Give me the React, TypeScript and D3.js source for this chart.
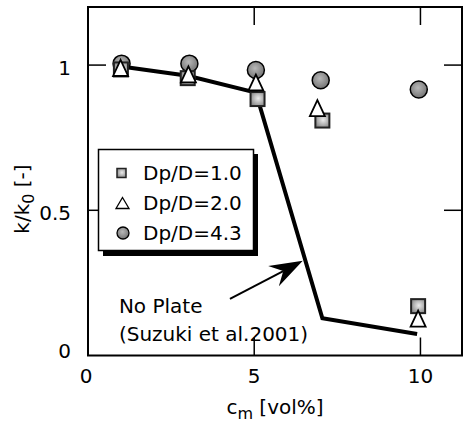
import React, { useEffect, useRef } from 'react';
import * as d3 from 'd3';

// Dp/D = 4.3 (circles)
const circX = [1.01, 3.05, 5.05, 7.0, 9.95];
const circY = [1.005, 1.005, 0.983, 0.948, 0.916];
// Dp/D = 2.0 (triangles)
const triX = [0.98, 3.02, 5.05, 6.9, 9.93];
const triY = [0.99, 0.968, 0.94, 0.852, 0.127];
// Dp/D = 1.0 (squares)
const sqX = [0.99, 3.0, 5.1, 7.05, 9.93];
const sqY = [0.985, 0.955, 0.883, 0.809, 0.17];
// No Plate (Suzuki et al.2001)
const lineX = [1, 3, 5.05, 7.05, 9.9];
const lineY = [0.995, 0.963, 0.905, 0.128, 0.074];

const xTicks = [0, 5, 10];
const yTicks = [0, 0.5, 1];
const legendLabels = ['Dp/D=1.0', 'Dp/D=2.0', 'Dp/D=4.3'];

const FONT = '"DejaVu Sans", sans-serif';

const triPath = (cx: number, cy: number, w: number, h: number) =>
  `M${cx},${cy - h / 2}L${cx + w / 2},${cy + h / 2}L${cx - w / 2},${cy + h / 2}Z`;

const App = () => {
  const svgRef = useRef<SVGSVGElement>(null);

  useEffect(() => {
    const W = 464;
    const H = 423;
    const svg = d3.select(svgRef.current);
    svg.selectAll('*').remove();
    svg.attr('width', W).attr('height', H);

    const x = d3.scaleLinear().domain([0, 11.25]).range([88, 462]);
    const y = d3.scaleLinear().domain([0, 1.2]).range([355.5, 7]);

    const defs = svg.append('defs');
    const gSq = defs.append('radialGradient').attr('id', 'gsq').attr('cx', '55%').attr('cy', '45%').attr('r', '60%');
    gSq.append('stop').attr('offset', '0%').attr('stop-color', '#ececec');
    gSq.append('stop').attr('offset', '100%').attr('stop-color', '#8a8a8a');
    const gCi = defs.append('radialGradient').attr('id', 'gci').attr('cx', '45%').attr('cy', '40%').attr('r', '60%');
    gCi.append('stop').attr('offset', '0%').attr('stop-color', '#b8b8b8');
    gCi.append('stop').attr('offset', '100%').attr('stop-color', '#747474');

    svg.append('rect').attr('width', W).attr('height', H).attr('fill', 'white');

    const [x0, x1] = x.range();
    const [y0, y1] = y.range();
    const tickLen = 18;

    // ticks, mirrored on all four sides
    const tickG = svg.append('g').attr('stroke', 'black').attr('stroke-width', 1.5);
    xTicks.filter(t => t > 0).forEach(t => {
      tickG.append('line').attr('x1', x(t)).attr('x2', x(t)).attr('y1', y0).attr('y2', y0 - tickLen);
      tickG.append('line').attr('x1', x(t)).attr('x2', x(t)).attr('y1', y1).attr('y2', y1 + tickLen);
    });
    yTicks.filter(t => t > 0).forEach(t => {
      tickG.append('line').attr('x1', x0).attr('x2', x0 + tickLen).attr('y1', y(t)).attr('y2', y(t));
      tickG.append('line').attr('x1', x1).attr('x2', x1 - tickLen).attr('y1', y(t)).attr('y2', y(t));
    });

    // tick labels
    svg.append('g').selectAll('text').data(xTicks).enter().append('text')
      .attr('x', d => x(d) - (d === 0 ? 2 : 0))
      .attr('y', 383)
      .attr('text-anchor', 'middle')
      .style('font-family', FONT).style('font-size', '20px')
      .text(d => String(d));
    svg.append('g').selectAll('text').data(yTicks).enter().append('text')
      .attr('x', 71)
      .attr('y', d => y(d) + (d === 0 ? 2 : 9.5))
      .attr('text-anchor', 'end')
      .style('font-family', FONT).style('font-size', '20px')
      .text(d => String(d));

    // legend box with shadow
    const lg = svg.append('g');
    lg.append('rect').attr('x', 103).attr('y', 154).attr('width', 155).attr('height', 102).attr('fill', 'black');
    lg.append('rect').attr('x', 98.5).attr('y', 149.5).attr('width', 155).attr('height', 101)
      .attr('fill', 'white').attr('stroke', 'black').attr('stroke-width', 1.5);
    const rowY = [173, 203, 233];
    lg.append('rect').attr('x', 117).attr('y', rowY[0] - 4.5).attr('width', 9).attr('height', 9)
      .attr('fill', 'url(#gsq)').attr('stroke', '#222').attr('stroke-width', 1.5);
    lg.append('path').attr('d', triPath(122.5, rowY[1], 13, 11))
      .attr('fill', 'white').attr('stroke', 'black').attr('stroke-width', 1.3);
    lg.append('circle').attr('cx', 123).attr('cy', rowY[2]).attr('r', 6)
      .attr('fill', 'url(#gci)').attr('stroke', 'black').attr('stroke-width', 1.3);
    legendLabels.forEach((l, i) => {
      lg.append('text').attr('x', 143).attr('y', rowY[i] + 7)
        .style('font-family', FONT).style('font-size', '20px').text(l);
    });

    // No Plate line
    const pts = lineX.map((v, i) => [v, lineY[i]] as [number, number]);
    const line = d3.line<[number, number]>().x(d => x(d[0])).y(d => y(d[1]));
    svg.append('path').datum(pts).attr('d', line)
      .attr('fill', 'none').attr('stroke', 'black').attr('stroke-width', 4).attr('stroke-linejoin', 'miter');

    // circles
    svg.append('g').selectAll('circle').data(circX).enter().append('circle')
      .attr('cx', d => x(d)).attr('cy', (d, i) => y(circY[i])).attr('r', 8.5)
      .attr('fill', 'url(#gci)').attr('stroke', 'black').attr('stroke-width', 1.5);
    // squares
    svg.append('g').selectAll('rect').data(sqX).enter().append('rect')
      .attr('x', d => x(d) - 7).attr('y', (d, i) => y(sqY[i]) - 7).attr('width', 14).attr('height', 14)
      .attr('fill', 'url(#gsq)').attr('stroke', '#222').attr('stroke-width', 2);
    // triangles
    svg.append('g').selectAll('path').data(triX).enter().append('path')
      .attr('d', (d, i) => triPath(x(d), y(triY[i]), 15, 16))
      .attr('fill', 'white').attr('stroke', 'black').attr('stroke-width', 1.8);

    // frame
    svg.append('rect').attr('x', x0).attr('y', y1).attr('width', x1 - x0).attr('height', y0 - y1)
      .attr('fill', 'none').attr('stroke', 'black').attr('stroke-width', 2);

    // annotation
    svg.append('text').attr('x', x(0.93)).attr('y', y(0.146))
      .style('font-family', FONT).style('font-size', '20px').text('No Plate');
    svg.append('text').attr('x', x(0.93)).attr('y', y(0.05))
      .style('font-family', FONT).style('font-size', '20px').text('(Suzuki et al.2001)');

    const ax0 = x(4.27), ay0 = y(0.195), ax1 = x(6.46), ay1 = y(0.326);
    const ang = Math.atan2(ay1 - ay0, ax1 - ax0);
    const hl = 33, hw = 11.5, notch = 22;
    const rot = (px: number, py: number) => [
      ax1 + px * Math.cos(ang) - py * Math.sin(ang),
      ay1 + px * Math.sin(ang) + py * Math.cos(ang),
    ];
    const pA = rot(-hl, -hw), pB = rot(-notch, 0), pC = rot(-hl, hw);
    svg.append('line').attr('x1', ax0).attr('y1', ay0).attr('x2', pB[0]).attr('y2', pB[1])
      .attr('stroke', 'black').attr('stroke-width', 2);
    svg.append('path').attr('d', `M${ax1},${ay1}L${pA[0]},${pA[1]}L${pB[0]},${pB[1]}L${pC[0]},${pC[1]}Z`)
      .attr('fill', 'black');

    // axis titles
    const xt = svg.append('text').attr('x', 275).attr('y', 414).attr('text-anchor', 'middle')
      .style('font-family', FONT).style('font-size', '20px');
    xt.append('tspan').text('c');
    xt.append('tspan').attr('dy', 5).style('font-size', '16px').text('m');
    xt.append('tspan').attr('dy', -5).text(' [vol%]');

    const yt = svg.append('text').attr('transform', 'translate(29,199) rotate(-90)').attr('text-anchor', 'middle')
      .style('font-family', FONT).style('font-size', '20px');
    yt.append('tspan').text('k/k');
    yt.append('tspan').attr('dy', 5).style('font-size', '16px').text('0');
    yt.append('tspan').attr('dy', -5).text(' [-]');
  }, []);

  return (
    <svg ref={svgRef} style={{ position: 'absolute', left: 0, top: 0, backgroundColor: 'white' }}></svg>
  );
};

export default App;
